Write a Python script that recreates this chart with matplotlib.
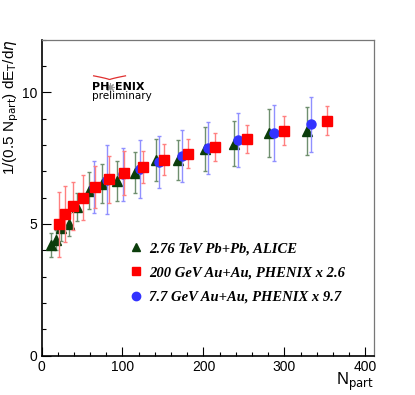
import matplotlib
matplotlib.use("Agg")
import matplotlib.pyplot as plt
from matplotlib.lines import Line2D
from matplotlib.ticker import MultipleLocator
import numpy as np

# 2.76 TeV Pb+Pb, ALICE
alice_npart = [11.5, 17.3, 23.8, 34.5, 44.4, 59, 74.8, 93.8, 115.6, 141, 169, 201.6, 237.8, 281, 328.4]
alice_val = [4.20, 4.37, 4.85, 4.98, 5.64, 6.25, 6.53, 6.63, 6.94, 7.41, 7.44, 7.84, 8.05, 8.45, 8.53]
alice_err = [0.46, 0.38, 0.50, 0.45, 0.53, 0.70, 0.73, 0.76, 0.77, 0.80, 0.76, 0.85, 0.86, 0.91, 0.90]

# 200 GeV Au+Au, PHENIX x 2.6
phx200_npart = [21.4, 29.6, 39.5, 51.8, 65.8, 83.1, 102, 125.4, 151, 180.6, 214.8, 253.8, 300, 352.6]
phx200_val = [4.98, 5.36, 5.68, 5.99, 6.40, 6.69, 6.93, 7.16, 7.44, 7.67, 7.92, 8.23, 8.54, 8.92]
phx200_err = [1.24, 1.06, 0.92, 0.86, 0.81, 0.89, 0.83, 0.61, 0.58, 0.54, 0.54, 0.53, 0.54, 0.54]

# 7.7 GeV Au+Au, PHENIX x 9.7
phx77_npart = [65, 81.4, 100.7, 121.4, 145.2, 173.2, 205.7, 242.7, 287, 333.3]
phx77_val = [6.40, 6.68, 6.88, 7.08, 7.35, 7.57, 7.88, 8.17, 8.45, 8.78]
phx77_err = [0.98, 1.30, 1.00, 1.09, 1.00, 1.00, 1.00, 1.03, 1.05, 1.04]

fig = plt.figure(figsize=(4.15, 3.95), dpi=100)
ax = fig.add_axes([0.1, 0.1, 0.8, 0.8])

common = dict(linestyle="none", capsize=1.5, elinewidth=1.0, capthick=1.0)
ax.errorbar(alice_npart, alice_val, yerr=alice_err, fmt="^", color="#0b3d0b",
            ecolor="#6f8f6f", markersize=7, zorder=3, **common)
ax.errorbar(phx77_npart, phx77_val, yerr=phx77_err, fmt="o", color="#3333ff",
            ecolor="#9090ff", markersize=6.5, zorder=4, **common)
ax.errorbar(phx200_npart, phx200_val, yerr=phx200_err, fmt="s", color="#ff0000",
            ecolor="#ff8080", markersize=6.5, zorder=5, **common)

ax.set_xlim(0, 410)
ax.set_ylim(0, 12)
ax.xaxis.set_major_locator(MultipleLocator(100))
ax.xaxis.set_minor_locator(MultipleLocator(20))
ax.yaxis.set_major_locator(MultipleLocator(5))
ax.yaxis.set_minor_locator(MultipleLocator(1))
ax.tick_params(which="both", direction="in", top=False, right=False,
               labelsize=10, width=0.8)
ax.tick_params(which="major", length=6.5, pad=3)
ax.tick_params(which="minor", length=3.2)
for lab in ax.get_xticklabels() + ax.get_yticklabels():
    lab.set_family("Liberation Sans")

for s in ("left", "bottom"):
    ax.spines[s].set_linewidth(1.2)
for s in ("top", "right"):
    ax.spines[s].set_linewidth(0.9)
    ax.spines[s].set_color("#777777")

ax.set_xlabel(r"N$_{\mathrm{part}}$", loc="right", fontsize=12,
              family="Liberation Sans", labelpad=-2)
ax.set_ylabel(r"1/(0.5 N$_{\mathrm{part}}$) dE$_{\mathrm{T}}$/d$\eta$", loc="top",
              fontsize=11, family="Liberation Sans", labelpad=1)

# legend drawn ROOT-style without a box
handles = [
    Line2D([], [], marker="^", color="#0b3d0b", linestyle="none", markersize=6),
    Line2D([], [], marker="s", color="#ff0000", linestyle="none", markersize=6),
    Line2D([], [], marker="o", color="#3333ff", linestyle="none", markersize=6),
]
labels = ["2.76 TeV Pb+Pb, ALICE", "200 GeV Au+Au, PHENIX x 2.6", "7.7 GeV Au+Au, PHENIX x 9.7"]
ax.legend(handles, labels, loc="upper left", bbox_to_anchor=(0.228, 0.40),
          frameon=False, handlelength=0.8, handletextpad=0.5, labelspacing=0.75,
          prop={"family": "Liberation Serif", "weight": "bold", "style": "italic", "size": 10.5})

# PHENIX preliminary logo
ax.text(0.152, 0.851, "PH", transform=ax.transAxes, fontsize=8, fontweight="bold",
        family="DejaVu Sans", va="center", ha="left")
ax.plot([0.205], [0.851], marker=(8, 2, 0), markersize=6, color="#999999",
        transform=ax.transAxes, markeredgewidth=0.8)
ax.text(0.222, 0.851, "ENIX", transform=ax.transAxes, fontsize=8, fontweight="bold",
        family="DejaVu Sans", va="center", ha="left")
ax.text(0.152, 0.820, "preliminary", transform=ax.transAxes, fontsize=7.5,
        family="DejaVu Sans", va="center", ha="left")
t = np.linspace(-1, 1, 40)
ax.plot(0.205 + 0.048 * t, 0.885 - 0.012 * (1 - np.abs(t) ** 0.8), color="#e03030",
        lw=0.9, transform=ax.transAxes)

fig.savefig("out.png", dpi=100)
